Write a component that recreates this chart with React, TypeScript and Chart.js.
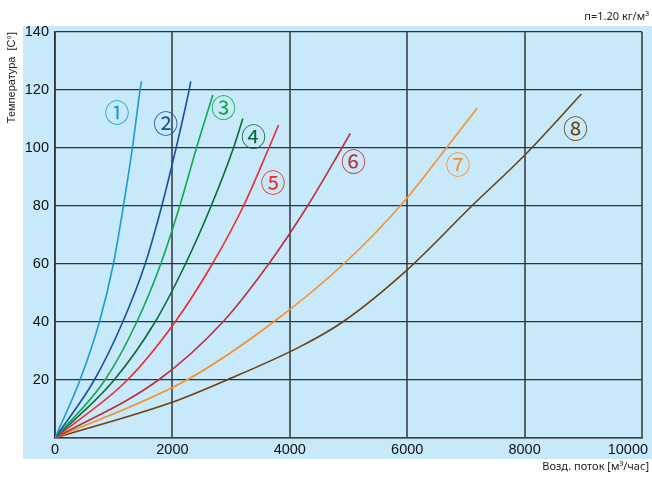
import React, { useEffect, useRef } from 'react';
import { Chart, registerables } from 'chart.js';

Chart.register(...registerables);

// ---- data ----
const curve1Flow = [0, 426, 756, 994, 1165, 1318, 1449, 1472];
const curve1Temp = [0, 20, 40, 60, 80, 100, 120, 123];
const curve2Flow = [0, 670, 1154, 1535, 1819, 2063, 2285, 2313];
const curve2Temp = [0, 20, 40, 60, 80, 100, 120, 123];
const curve3Flow = [0, 852, 1393, 1801, 2125, 2410, 2688];
const curve3Temp = [0, 20, 40, 60, 80, 100, 118.3];
const curve4Flow = [0, 1006, 1705, 2222, 2660, 3040, 3200];
const curve4Temp = [0, 20, 40, 60, 80, 100, 110.2];
const curve5Flow = [0, 1233, 2046, 2680, 3211, 3643, 3808];
const curve5Temp = [0, 20, 40, 60, 80, 100, 107.9];
const curve6Flow = [0, 1762, 2859, 3640, 4302, 4887, 5030];
const curve6Temp = [0, 20, 40, 60, 80, 100, 105];
const curve7Flow = [0, 2245, 3723, 4916, 5880, 6667, 7195];
const curve7Temp = [0, 20, 40, 60, 80, 100, 113.8];
const curve8Flow = [0, 1995, 2927, 4177, 4900, 6000, 7100, 8000, 8968];
const curve8Temp = [0, 12.3, 20, 31.5, 40, 58, 80, 97.5, 118.6];

const seriesFlows = [curve1Flow, curve2Flow, curve3Flow, curve4Flow, curve5Flow, curve6Flow, curve7Flow, curve8Flow];
const seriesTemps = [curve1Temp, curve2Temp, curve3Temp, curve4Temp, curve5Temp, curve6Temp, curve7Temp, curve8Temp];
const seriesNames = ['1', '2', '3', '4', '5', '6', '7', '8'];
const seriesColors = ['#1b9ad7', '#1d4fa3', '#10a84e', '#0b6b36', '#ee2b2f', '#b8323c', '#f4912f', '#6a4315'];

const markTexts = ['①', '②', '③', '④', '⑤', '⑥', '⑦', '⑧'];
const markFlow = [1057, 1887, 2870, 3381, 3712, 5086, 6866, 8866];
const markTemp = [112.3, 108.6, 113.9, 103.9, 88, 95.3, 94.4, 106.8];

const xTickValues = [0, 2000, 4000, 6000, 8000, 10000];
const yTickValues = [0, 20, 40, 60, 80, 100, 120, 140];

const densityNote = 'п=1.20 кг/м³';
const xTitle = 'Возд. поток [м³/час]';
const yTitle = 'Температура  [С°]';

const backgroundPlugin = {
  id: 'panelBackground',
  beforeDraw(chart: any) {
    const { ctx, chartArea } = chart;
    ctx.save();
    ctx.fillStyle = '#c7e9f9';
    const top = chartArea.top - 6;
    const bottom = chartArea.bottom + 21;
    ctx.fillRect(23, top, chart.width - 23, bottom - top);
    ctx.restore();
  },
};

const markPlugin = {
  id: 'circledMarks',
  afterDatasetsDraw(chart: any) {
    const { ctx } = chart;
    const xs = chart.scales.x;
    const ys = chart.scales.y;
    ctx.save();
    ctx.font = '25px "Noto Sans CJK JP"';
    ctx.textAlign = 'center';
    ctx.textBaseline = 'middle';
    markTexts.forEach((t, i) => {
      ctx.fillStyle = seriesColors[i];
      ctx.fillText(t, xs.getPixelForValue(markFlow[i]), ys.getPixelForValue(markTemp[i]));
    });
    ctx.restore();
  },
};

export default function App() {
  const ref = useRef<HTMLCanvasElement | null>(null);

  useEffect(() => {
    if (!ref.current) return;
    const datasets = seriesNames.map((name, i) => ({
      label: name,
      data: seriesFlows[i].map((x, j) => ({ x, y: seriesTemps[i][j] })),
      borderColor: seriesColors[i],
      backgroundColor: seriesColors[i],
      borderWidth: 1.6,
      pointRadius: 0,
      cubicInterpolationMode: 'monotone' as const,
      fill: false,
    }));

    const chart = new Chart(ref.current, {
      type: 'line',
      data: { datasets },
      plugins: [backgroundPlugin, markPlugin],
      options: {
        animation: false,
        responsive: false,
        maintainAspectRatio: false,
        layout: { padding: { left: 0, right: 3, top: 0, bottom: 0 } },
        plugins: {
          legend: { display: false },
          tooltip: { enabled: false },
          title: {
            display: true,
            text: densityNote,
            align: 'end',
            color: '#222',
            font: { family: '"Noto Sans", sans-serif', size: 11, weight: 'normal' },
            padding: { top: 10, bottom: 8.8 },
          },
          subtitle: {
            display: true,
            position: 'bottom',
            text: xTitle,
            align: 'end',
            color: '#222',
            font: { family: '"Noto Sans", sans-serif', size: 11, weight: 'normal' },
            padding: { top: 2, bottom: 8.4 },
          },
        },
        scales: {
          x: {
            type: 'linear',
            min: 0,
            max: 10000,
            afterBuildTicks(s: any) {
              s.ticks = xTickValues.map((v) => ({ value: v }));
            },
            afterFit(s: any) {
              s.height = 20.4;
              s.paddingLeft = 0;
              s.paddingRight = 10;
            },
            grid: { color: '#58626b', lineWidth: 2, drawTicks: false },
            border: { display: true, color: '#3a3f44', width: 1.5 },
            ticks: {
              color: '#111',
              font: { family: '"Liberation Sans", Arial, sans-serif', size: 14.5 },
              padding: 3,
              maxRotation: 0,
              autoSkip: false,
              callback: (v: any) => (v === 10000 ? '10000       ' : String(v)),
            },
          },
          y: {
            type: 'linear',
            min: 0,
            max: 140,
            afterBuildTicks(s: any) {
              s.ticks = yTickValues.map((v) => ({ value: v }));
            },
            afterFit(s: any) {
              s.width = 55;
            },
            title: {
              display: true,
              text: yTitle,
              align: 'end',
              color: '#222',
              font: { family: '"Liberation Sans", Arial, sans-serif', size: 11 },
              padding: { top: 5, bottom: 0 },
            },
            grid: { color: '#2e3236', lineWidth: 1.3, drawTicks: false },
            border: { display: true, color: '#2e3236', width: 1.5 },
            ticks: {
              color: '#111',
              font: { family: '"Liberation Sans", Arial, sans-serif', size: 14.5 },
              padding: 6,
              autoSkip: false,
              callback: (v: any) => (v === 0 ? '' : String(v)),
            },
          },
        },
      },
    });
    return () => chart.destroy();
  }, []);

  return (
    <div style={{ position: 'absolute', left: 0, top: 0, width: 652, height: 482, background: '#fff' }}>
      <canvas ref={ref} width={652} height={482} style={{ display: 'block', width: 652, height: 482 }} />
    </div>
  );
}
